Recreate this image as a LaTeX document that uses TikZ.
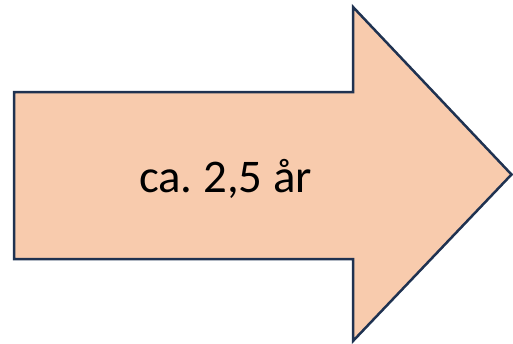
\documentclass[tikz,border=0pt]{standalone}
\usepackage{fontspec}
\setmainfont{Carlito}
\usetikzlibrary{positioning}
\definecolor{peach}{HTML}{F8CBAD}
\definecolor{navy}{HTML}{1F3251}
\frenchspacing

\begin{document}
\begin{tikzpicture}[
  x=1bp,y=-1bp,
  arrowbody/.style={draw=navy,fill=peach,line width=2.5bp,line join=miter},
  label/.style={font=\fontsize{47}{56}\selectfont,anchor=base,inner sep=0pt}
]
\useasboundingbox (0,0) rectangle (513,343);
\draw[arrowbody] (14,92) -- (353,92) -- (353,7) -- (511.5,174.5)
  -- (353,341) -- (353,259) -- (14,259) -- cycle;
\node[label] (span) at (225.5,192.5) {ca. 2,5 år};
\end{tikzpicture}
\end{document}
